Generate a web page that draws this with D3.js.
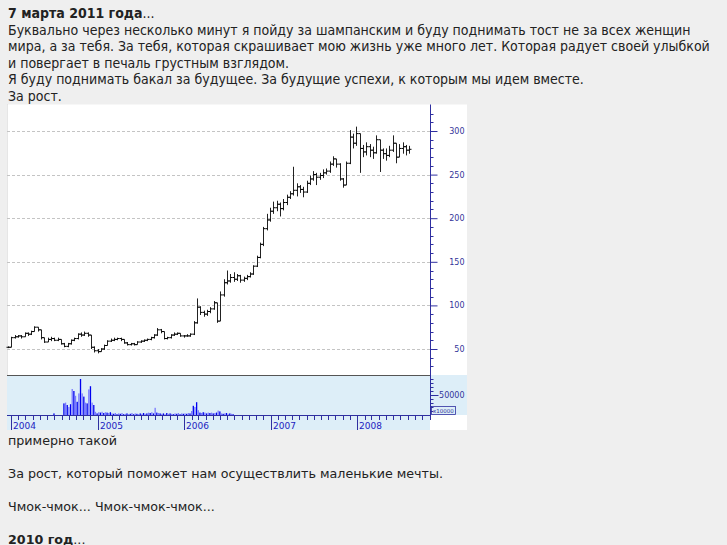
<!DOCTYPE html>
<html><head><meta charset="utf-8">
<script src="https://cdn.jsdelivr.net/npm/d3@7"></script>
<style>
html,body{margin:0;padding:0;background:#efefef;width:727px;height:545px;overflow:hidden;}
.txt{position:absolute;left:8px;white-space:nowrap;color:#222;}
#top{top:5px;font-family:"DejaVu Sans Condensed","DejaVu Sans";font-stretch:condensed;font-size:14px;line-height:16.6px;}
#bot{top:433px;font-family:"DejaVu Sans";font-size:12.7px;line-height:16.5px;}
svg{position:absolute;left:0;top:0;}
</style></head>
<body>
<div id="top" class="txt"><b>7 марта 2011 года</b>...<br>Буквально через несколько минут я пойду за шампанским и буду поднимать тост не за всех женщин<br>мира, а за тебя. За тебя, которая скрашивает мою жизнь уже много лет. Которая радует своей улыбкой<br>и повергает в печаль грустным взглядом.<br>Я буду поднимать бакал за будущее. За будущие успехи, к которым мы идем вместе.<br>За рост.</div>
<svg id="chart" width="727" height="545"></svg>
<div id="bot" class="txt">примерно такой<br><br>За рост, который поможет нам осуществлить маленькие мечты.<br><br>Чмок-чмок... Чмок-чмок-чмок...<br><br><b>2010 год</b>...</div>
<script>
// ---- data ----
const priceStart = "2003-12-19";   // first bar, one bar every two weeks
const close = [52,63,64,65,64,68,67,70,75,72, 63,58,61,62,60,61,56,53,56,60,
  62,67,66,68,66,52,48,47,50,54, 59,60,61,62,61,57,55,56,55,58,
  59,60,61,63,66,72,70,62,63,66, 67,68,65,65,65,67,80,98,92,90,
  93,96,103,82,112,126,128,132,130,134, 129,131,133,136,145,155,170,188,198,208,
  212,216,211,218,224,228,232,236,233,230, 240,245,250,247,249,252,254,262,268,262,
  245,238,263,293,286,297,280,276,282,278, 275,290,278,274,272,278,286,270,280,282,
  278,279];
const high = [53,64,66,66,66,69,69,71,76,75, 70,63,63,64,63,63,61,57,57,61,
  63,68,69,70,69,66,53,50,51,55, 60,62,63,63,63,61,58,57,57,59,
  60,61,62,64,67,74,73,70,64,67, 69,69,68,66,67,68,82,108,99,94,
  95,98,105,103,116,130,140,136,138,136, 135,133,135,138,146,157,172,190,205,212,
  219,220,218,222,227,231,259,240,238,236, 243,249,254,252,252,256,257,265,271,268,
  263,246,265,301,297,305,290,284,287,285, 282,295,285,280,280,283,295,282,285,287,
  284,283];
const low = [51,62,62,63,62,64,65,66,70,70, 61,57,58,59,59,59,55,52,52,55,
  59,61,64,65,64,50,46,45,47,49, 54,58,59,60,59,56,54,54,54,55,
  57,58,59,60,62,65,68,61,61,62, 65,66,64,63,64,64,66,79,89,87,
  88,91,95,80,82,110,124,126,127,128, 126,127,129,132,135,144,154,168,186,196,
  205,208,202,209,215,222,226,225,229,224, 229,238,243,238,244,246,250,252,260,258,
  243,235,240,262,280,283,252,270,272,270, 268,274,253,268,266,270,276,263,270,274,
  272,274];
const volStart = "2004-06-30";     // weekly volume bars
const volume = [4000,0,0,0,0,0,29000,31000,25000,20000,
  27000,65000,60000,48000,33000,54000,90000,54000,46000,31000,
  29000,64000,72000,31000,25000,8000,4000,7000,6000,8000,
  5000,7000,6000,5000,7000,4000,3000,5000,2000,4000,
  3000,5000,2000,3000,4000,2000,3000,5000,2000,4000,
  3000,2000,4000,3000,5000,3000,4000,6000,5000,7000,
  4000,18000,6000,5000,4000,3000,4000,2000,5000,3000,
  4000,3000,2000,4000,3000,5000,2000,4000,3000,4000,
  3000,5000,4000,10000,23000,20000,32000,12000,6000,5000,
  7000,6000,4000,6000,5000,6000,4000,5000,6000,11000,
  9000,4000,3000,4000,5000,3000,4000,3000,2000];
const priceTicks = [50,100,150,200,250,300];
const volTicks = [50000];
const yearLabels = ["2004","2005","2006","2007","2008"];
const volUnitLabel = "x10000";

// ---- chart ----
const svg = d3.select("#chart");
const L = 7, R = 430, OUT = 467, TOP = 104.5, PB = 375, VB = 415, BB = 430;
const parse = d3.timeParse("%Y-%m-%d");
const x = d3.scaleTime().domain([parse("2003-12-15"), parse("2008-11-03")]).range([L, R]);
const y = d3.scaleLinear().domain([50, 300]).range([349, 131]);
const yv = d3.scaleLinear().domain([0, 50000]).range([VB, VB - 20]);
const axisCol = "#2f2fa0", labCol = "#34349a";

// backgrounds
svg.append("rect").attr("x", L).attr("y", TOP).attr("width", OUT - L).attr("height", PB - TOP).attr("fill", "#fff");
svg.append("rect").attr("x", L).attr("y", PB).attr("width", OUT - L).attr("height", VB - PB).attr("fill", "#ddeef8");
svg.append("rect").attr("x", L).attr("y", VB).attr("width", R - L).attr("height", BB - VB).attr("fill", "#ddeef8");
svg.append("rect").attr("x", R).attr("y", VB).attr("width", OUT - R).attr("height", BB - VB).attr("fill", "#fff");
svg.append("line").attr("x1", L + 0.5).attr("x2", L + 0.5).attr("y1", TOP).attr("y2", PB)
  .attr("stroke", "#ccc").attr("stroke-dasharray", "1,1");

// grid
svg.append("g").selectAll("line").data(priceTicks).join("line")
  .attr("x1", L).attr("x2", R).attr("y1", d => Math.round(y(d)) + 0.5).attr("y2", d => Math.round(y(d)) + 0.5)
  .attr("stroke", "#c4c4c4").attr("stroke-dasharray", "3,2");

// price bars
const dates = close.map((_, i) => d3.timeDay.offset(parse(priceStart), 14 * i));
const bars = close.map((c, i) => {
  const o = i === 0 ? c : close[i - 1];
  return {d: dates[i], o, c, h: Math.max(high[i], o, c), l: Math.min(low[i], o, c)};
});
const gp = svg.append("g");
gp.selectAll("line.hl").data(bars).join("line").attr("class", "hl")
  .attr("x1", d => Math.round(x(d.d)) + 0.5).attr("x2", d => Math.round(x(d.d)) + 0.5)
  .attr("y1", d => y(d.h)).attr("y2", d => y(d.l)).attr("stroke", "#222").attr("stroke-width", 1);
gp.selectAll("line.op").data(bars).join("line").attr("class", "op")
  .attr("x1", d => Math.round(x(d.d)) - 1.5).attr("x2", d => Math.round(x(d.d)) + 0.5)
  .attr("y1", d => y(d.o)).attr("y2", d => y(d.o)).attr("stroke", "#000");
gp.selectAll("line.cl").data(bars).join("line").attr("class", "cl")
  .attr("x1", d => Math.round(x(d.d)) + 0.5).attr("x2", d => Math.round(x(d.d)) + 2.5)
  .attr("y1", d => y(d.c)).attr("y2", d => y(d.c)).attr("stroke", "#000");

// separator
svg.append("line").attr("x1", L).attr("x2", R).attr("y1", PB + 0.5).attr("y2", PB + 0.5).attr("stroke", "#555");

// volume bars
const vdates = volume.map((_, i) => d3.timeDay.offset(parse(volStart), 7 * i));
svg.append("g").selectAll("rect").data(volume).join("rect")
  .attr("x", (d, i) => x(vdates[i]) - 0.6).attr("width", 1.3)
  .attr("y", d => yv(d)).attr("height", d => VB - yv(d))
  .attr("fill", (d, i) => i % 2 ? "#7a7aff" : "#0000f0");

// right price axis
const minor = d3.range(30, 330, 10).filter(v => v % 50 !== 0);
const ax = svg.append("g").attr("transform", `translate(${R + 0.5},0)`);
ax.append("line").attr("y1", TOP).attr("y2", VB).attr("stroke", axisCol);
ax.selectAll("line.mi").data(minor).join("line").attr("class", "mi")
  .attr("x2", 3).attr("y1", d => Math.round(y(d)) + 0.5).attr("y2", d => Math.round(y(d)) + 0.5).attr("stroke", axisCol);
const pa = d3.axisRight(y).tickValues(priceTicks).tickSize(7).tickFormat(d3.format("d"));
const pag = svg.append("g").attr("transform", `translate(${R + 0.5},0)`).call(pa);
pag.select(".domain").remove();
pag.selectAll(".tick line").attr("stroke", axisCol);
pag.selectAll(".tick text").attr("x", 34).attr("text-anchor", "end").attr("fill", labCol)
  .style("font-family", "DejaVu Sans").style("font-size", "8px");

// volume axis
const vminor = d3.range(10000, 100000, 10000).filter(v => !volTicks.includes(v));
ax.selectAll("line.vmi").data(vminor).join("line").attr("class", "vmi")
  .attr("x2", 3).attr("y1", d => Math.round(yv(d)) + 0.5).attr("y2", d => Math.round(yv(d)) + 0.5).attr("stroke", axisCol);
const va = d3.axisRight(yv).tickValues(volTicks).tickSize(8).tickFormat(d3.format("d"));
const vag = svg.append("g").attr("transform", `translate(${R + 0.5},0)`).call(va);
vag.select(".domain").remove();
vag.selectAll(".tick line").attr("stroke", axisCol);
vag.selectAll(".tick text").attr("x", 34).attr("text-anchor", "end").attr("fill", labCol)
  .style("font-family", "DejaVu Sans").style("font-size", "8px");
svg.append("rect").attr("x", R + 1.5).attr("y", 406.5).attr("width", 24).attr("height", 8)
  .attr("fill", "none").attr("stroke", axisCol).attr("stroke-width", 0.8);
svg.append("text").attr("x", R + 3).attr("y", 413).text(volUnitLabel)
  .attr("fill", labCol).style("font-family", "DejaVu Sans").style("font-size", "5.5px");

// date axis
svg.append("line").attr("x1", L).attr("x2", R).attr("y1", VB + 0.5).attr("y2", VB + 0.5).attr("stroke", axisCol);
const months = d3.timeMonth.range(x.domain()[0], x.domain()[1]);
svg.append("g").selectAll("line").data(months).join("line")
  .attr("x1", d => Math.round(x(d)) + 0.5).attr("x2", d => Math.round(x(d)) + 0.5)
  .attr("y1", VB).attr("y2", d => d.getMonth() === 0 ? BB : VB + 5).attr("stroke", axisCol);
const years = yearLabels.map(s => parse(s + "-01-01"));
svg.append("g").selectAll("text").data(years).join("text")
  .attr("x", d => Math.round(x(d)) + 2).attr("y", 428.5).text((d, i) => yearLabels[i])
  .attr("fill", "#2222c0").style("font-family", "DejaVu Sans").style("font-size", "9px");
</script>
</body></html>
